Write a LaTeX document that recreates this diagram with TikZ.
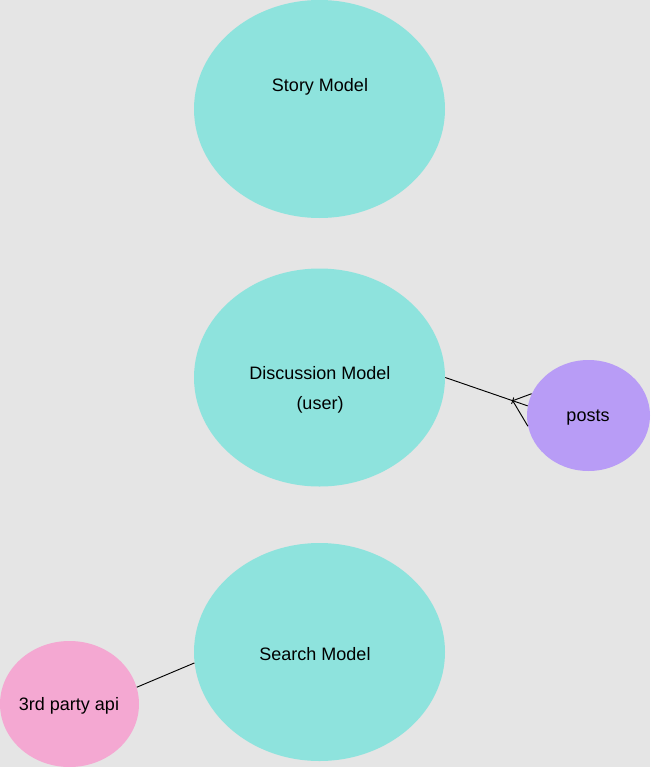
\documentclass[tikz,border=0pt]{standalone}
\usepackage{fontspec}
\setmainfont{Liberation Sans}
\usetikzlibrary{shapes.geometric}

\definecolor{bgrey}{HTML}{E5E5E5}
\definecolor{modelteal}{HTML}{8EE3DD}
\definecolor{postlilac}{HTML}{B89CF6}
\definecolor{apipink}{HTML}{F4A8D2}

\tikzset{
  model/.style={ellipse, fill=modelteal, inner sep=0pt, minimum width=188.25pt, minimum height=163.5pt},
  txt/.style={inner sep=0pt, font=\fontsize{13.5}{16}\selectfont},
  link/.style={line width=0.7pt, black}
}

\begin{document}
\begin{tikzpicture}[x=0.75pt, y=-0.75pt]

% fond
\fill[bgrey] (0,0) rectangle (650,767);
\useasboundingbox (0,0) rectangle (650,767);

% modeles
\node[model] (story) at (319.5,109) {};
\node[model] (discussion) at (319.5,377.5) {};
\node[model] (search) at (319.5,652) {};

% satellites
\node[ellipse, fill=postlilac, inner sep=0pt, minimum width=92.25pt, minimum height=83.25pt] (posts) at (588.5,415.5) {};
\node[ellipse, fill=apipink, inner sep=0pt, minimum width=104.25pt, minimum height=94.5pt] (api) at (69.5,704) {};

% textes
\node[txt] (storytxt) at (320,87) {Story Model};
\node[txt] (disctxt) at (320,373) {Discussion Model};
\node[txt] (usertxt) at (320,405) {(user)};
\node[txt] (searchtxt) at (315,654) {Search Model};
\node[txt] (poststxt) at (588,418) {posts};
\node[txt] (apitxt) at (69,706) {3rd party api};

% discussion -> posts (plusieurs)
\coordinate (fork) at (512.7,400.7);
\draw[link] (discussion.east) -- (posts.171);
\draw[link] (posts.159) -- (fork) -- (posts.190);
\draw[link] (511.6,403.9) -- (513.8,397.5); % petit trait

% api -> search
\draw[link] (api.14.5) -- (search.185);

\end{tikzpicture}
\end{document}
